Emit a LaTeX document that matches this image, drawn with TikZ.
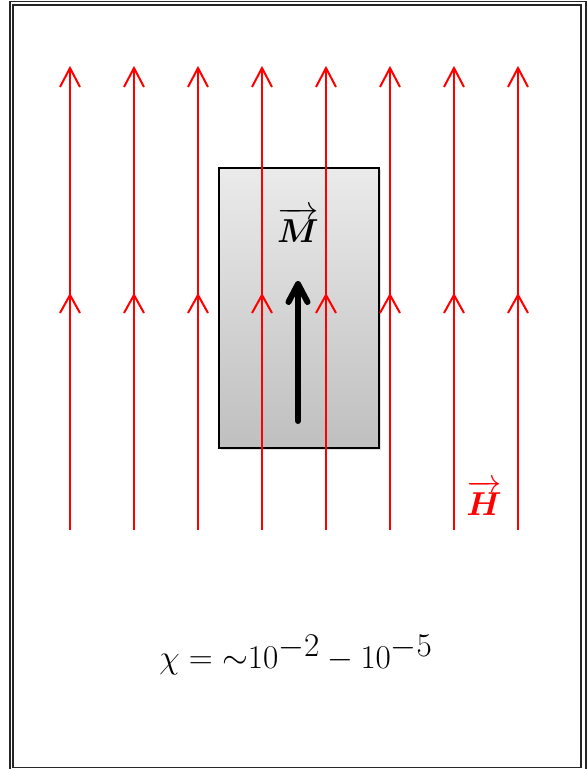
\documentclass[tikz,border=0pt]{standalone}
\usepackage{amsmath,bm}
\usetikzlibrary{shadows}
\begin{document}
\begin{tikzpicture}[x=0.75pt,y=-0.75pt,
  fieldline/.style={red, line width=1.5pt},
  chevron/.style={red, line width=1.5pt, line join=miter},
  frameline/.style={black!85, line width=1.1pt},
  samplebox/.style={draw=black, line width=0.9pt, top color=black!8, bottom color=black!25,
    minimum width=120pt, minimum height=210pt, inner sep=0pt,
    drop shadow={shadow xshift=1.5pt, shadow yshift=-1.5pt, opacity=0.25, fill=black!50}},
  magarrow/.style={black, line width=4.5pt, line cap=round, line join=round}]
\useasboundingbox (0,0) rectangle (587,769);
% double frame
\draw[frameline] (10,1.5) rectangle (586,772);
\draw[frameline] (13,5) rectangle (581,767.5);
% sample
\node[samplebox] (sample) at (299,308) {};
% field lines
\foreach \x in {70,134,198,262,326,390,454,518} {
  \draw[fieldline] (\x,530) -- (\x,68);
  \draw[chevron] (\x-10,87) -- (\x,68) -- (\x+10,87);
  \draw[chevron] (\x-10,313) -- (\x,295) -- (\x+10,313);
}
% magnetization arrow
\coordinate (mtail) at (298,421);
\coordinate (mtip) at (298,284);
\draw[magarrow] (mtail) -- (mtip);
\draw[magarrow] (288.5,302) -- (mtip) -- (307.5,302);
% labels
\node[font=\fontsize{29}{32}\selectfont, inner sep=0pt] (mlabel) at (298,225) {$\overrightarrow{\bm{M}}$};
\node[font=\fontsize{29}{32}\selectfont, text=red, inner sep=0pt] (hlabel) at (484,498) {$\overrightarrow{\bm{H}}$};
\node[font=\fontsize{36}{42}\selectfont, inner sep=0pt] (chi) at (296,655) {$\chi = {\sim}10^{-2} - 10^{-5}$};
\end{tikzpicture}
\end{document}
